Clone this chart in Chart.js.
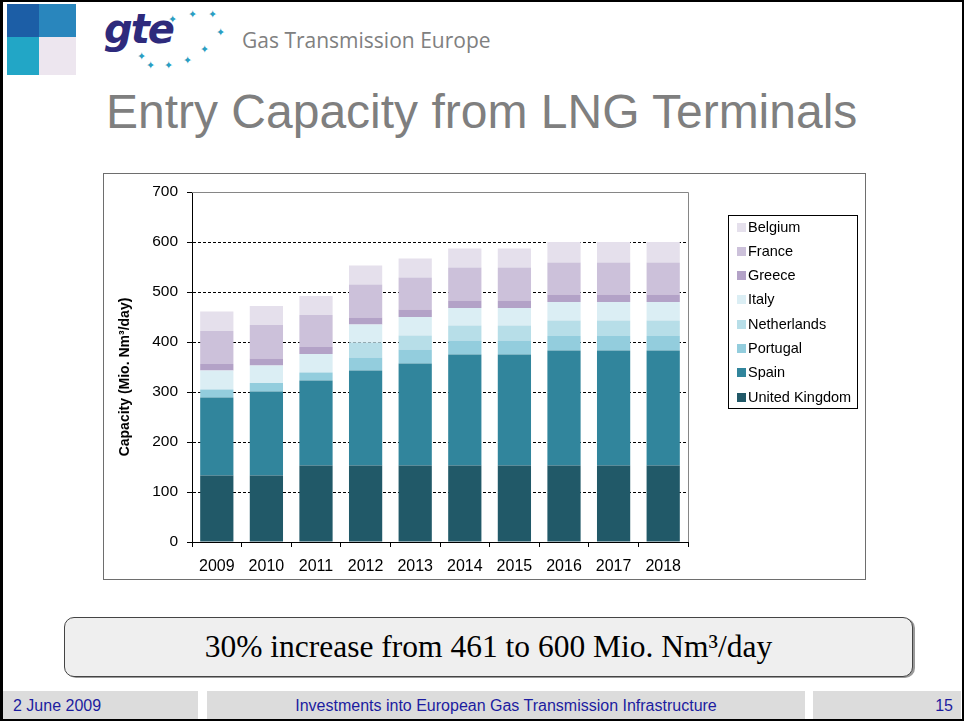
<!DOCTYPE html>
<html>
<head>
<meta charset="utf-8">
<script src="https://cdn.jsdelivr.net/npm/chart.js@4.4.1/dist/chart.umd.min.js"></script>
<style>
  html, body { margin: 0; padding: 0; background: #fff; }
  #slide { position: relative; width: 964px; height: 721px; overflow: hidden; background: #fff; }
  #frame { position: absolute; left: 0; top: 0; width: 964px; height: 721px; box-sizing: border-box;
           border: 2px solid #000; border-left-width: 3px; pointer-events: none; z-index: 5; }
  .sq { position: absolute; }
  #gte { position: absolute; left: 104px; top: 6px; font-family: "DejaVu Sans", sans-serif; font-style: italic;
         font-weight: bold; font-size: 40px; color: #2e2a7c; letter-spacing: -2px; }
  .star { position: absolute; font-family: "DejaVu Sans", sans-serif; font-size: 11px; color: #2a9ec2; line-height: 1; }
  #gtename { position: absolute; left: 242px; top: 26px; font-family: "Open Sans", sans-serif; font-size: 21px;
             color: #808080; white-space: nowrap; }
  #title { position: absolute; left: 106px; top: 84px; font-family: "Liberation Sans", Arial, sans-serif;
           font-size: 48px; color: #7f7f7f; white-space: nowrap; line-height: 56px; }
  #chartbox { position: absolute; left: 103px; top: 173px; width: 762px; height: 406px; }
  #chartborder { position: absolute; left: 103px; top: 173px; width: 763px; height: 407px; box-sizing: border-box;
                 border: 1px solid #6e6e6e; pointer-events: none; }
  #note { position: absolute; left: 64px; top: 617px; width: 849px; height: 60px; box-sizing: border-box;
          border: 1px solid #444; border-radius: 10px; background: #efefef; box-shadow: 2px 1px 0 #9a9a9a;
          font-family: "Liberation Serif", "Times New Roman", serif; font-size: 31.5px; color: #000;
          text-align: center; line-height: 58px; white-space: nowrap; }
  .foot { position: absolute; top: 691px; height: 28px; background: #dcdcdc; font-family: "Liberation Sans", Arial, sans-serif;
          font-size: 16px; color: #1c1ca0; line-height: 30px; white-space: nowrap; }
</style>
</head>
<body>
<div id="slide">
  <div class="sq" style="left:7px;top:4px;width:32px;height:33px;background:#1c5ea6;"></div>
  <div class="sq" style="left:39px;top:4px;width:37px;height:33px;background:#2986bd;"></div>
  <div class="sq" style="left:7px;top:37px;width:32px;height:38px;background:#22a6c6;"></div>
  <div class="sq" style="left:39px;top:37px;width:37px;height:38px;background:#ede6ef;"></div>
  <div id="gte">gte</div>
  <div class="star" style="left:168px;top:14px;">✦</div>
  <div class="star" style="left:188px;top:9px;">✦</div>
  <div class="star" style="left:208px;top:9px;">✦</div>
  <div class="star" style="left:216px;top:27px;">✦</div>
  <div class="star" style="left:200px;top:44px;">✦</div>
  <div class="star" style="left:183px;top:55px;">✦</div>
  <div class="star" style="left:164px;top:60px;">✦</div>
  <div class="star" style="left:146px;top:60px;">✦</div>
  <div class="star" style="left:137px;top:51px;">✦</div>
  <div id="gtename">Gas Transmission Europe</div>
  <div id="title">Entry Capacity from LNG Terminals</div>
  <div id="chartbox"><canvas id="c" width="762" height="406"></canvas></div>
  <div id="chartborder"></div>
  <div id="note">30% increase from 461 to 600 Mio. Nm³/day</div>
  <div class="foot" style="left:3px;width:195px;padding-left:10px;box-sizing:border-box;">2 June 2009</div>
  <div class="foot" style="left:207px;width:598px;text-align:center;">Investments into European Gas Transmission Infrastructure</div>
  <div class="foot" style="left:813px;width:148px;text-align:right;padding-right:8px;box-sizing:border-box;">15</div>
  <div id="frame"></div>
</div>
<script>
const years = ['2009','2010','2011','2012','2013','2014','2015','2016','2017','2018'];
const unitedKingdom = [133,133,153,153,153,153,153,153,153,153];
const spain        = [156,168,170,190,204,222,222,230,230,230];
const portugal     = [16,17,16,26,28,28,28,29,29,29];
const netherlands  = [0,0,0,30,28,30,30,31,31,31];
const italy        = [38,35,37,36,37,35,35,37,37,37];
const greece       = [13,14,14,14,15,15,15,15,15,15];
const france       = [66,67,64,66,64,66,66,64,64,64];
const belgium      = [39,38,38,38,38,38,38,41,41,41];
const yTicks = [0,100,200,300,400,500,600,700];
const yTitle = 'Capacity (Mio. Nm³/day)';

const series = [
  ['United Kingdom', unitedKingdom, '#215968'],
  ['Spain', spain, '#31859c'],
  ['Portugal', portugal, '#93cddd'],
  ['Netherlands', netherlands, '#b7dee8'],
  ['Italy', italy, '#dbeef4'],
  ['Greece', greece, '#b3a2c7'],
  ['France', france, '#ccc1da'],
  ['Belgium', belgium, '#e5e0ec']
];

const boxLegend = {
  id: 'boxLegend',
  afterDraw(chart) {
    const ctx = chart.ctx, ca = chart.chartArea;
    const x0 = ca.right + 40.5, y0 = 42.5, w = 129, h = 193;
    ctx.save();
    ctx.fillStyle = '#fff';
    ctx.fillRect(x0, y0, w, h);
    ctx.strokeStyle = '#000';
    ctx.lineWidth = 1;
    ctx.strokeRect(x0, y0, w, h);
    ctx.font = '14.5px "Liberation Sans", Arial, sans-serif';
    ctx.textBaseline = 'middle';
    const ds = chart.data.datasets.slice().reverse();
    ds.forEach((d, i) => {
      const cy = y0 + 11.5 + i * 24.3;
      ctx.fillStyle = d.backgroundColor;
      ctx.fillRect(x0 + 8.5, Math.round(cy - 4.5), 9, 9);
      ctx.fillStyle = '#000';
      ctx.fillText(d.label, x0 + 19.5, cy + 0.5);
    });
    ctx.restore();
  }
};

const yAxisTitle = {
  id: 'yAxisTitle',
  afterDraw(chart) {
    const ctx = chart.ctx, ca = chart.chartArea;
    ctx.save();
    ctx.translate(22, (ca.top + ca.bottom) / 2 + 10);
    ctx.rotate(-Math.PI / 2);
    ctx.font = 'bold 14px "Liberation Sans", Arial, sans-serif';
    ctx.fillStyle = '#000';
    ctx.textAlign = 'center';
    ctx.textBaseline = 'middle';
    ctx.fillText(yTitle, 0, 0);
    ctx.restore();
  }
};

const plotBorder = {
  id: 'plotBorder',
  afterDatasetsDraw(chart) {
    const ctx = chart.ctx, ca = chart.chartArea;
    ctx.save();
    ctx.strokeStyle = '#868686';
    ctx.lineWidth = 1;
    ctx.beginPath();
    ctx.moveTo(ca.left, Math.round(ca.top) + 0.5);
    ctx.lineTo(Math.round(ca.right) + 0.5, Math.round(ca.top) + 0.5);
    ctx.lineTo(Math.round(ca.right) + 0.5, ca.bottom);
    ctx.stroke();
    ctx.restore();
  }
};

new Chart(document.getElementById('c'), {
  type: 'bar',
  data: {
    labels: years,
    datasets: series.map(([label, data, color]) => ({
      label, data, backgroundColor: color, borderWidth: 0,
      barPercentage: 0.67, categoryPercentage: 1.0
    }))
  },
  options: {
    responsive: false,
    animation: false,
    devicePixelRatio: 1,
    layout: { padding: { left: 0, top: 19, right: 177, bottom: 0 } },
    plugins: { legend: { display: false }, tooltip: { enabled: false } },
    scales: {
      x: {
        stacked: true,
        afterFit(s) { s.height = 37; },
        grid: { drawOnChartArea: false, offset: true, color: '#000', tickLength: 5 },
        border: { color: '#000', width: 1 },
        ticks: { color: '#000', padding: 10, font: { family: '"Liberation Sans", Arial, sans-serif', size: 16 } }
      },
      y: {
        stacked: true,
        min: 0, max: 700,
        afterFit(s) { s.width = 89; },
        afterBuildTicks(s) { s.ticks = yTicks.map(v => ({ value: v })); },
        grid: {
          color: (c) => (c.tick && c.tick.value === 700) ? 'rgba(0,0,0,0)' : '#000',
          tickColor: '#000', tickLength: 5, tickBorderDash: []
        },
        border: { color: '#000', width: 1, dash: [3, 2] },
        ticks: { color: '#000', padding: 9, font: { family: '"Liberation Sans", Arial, sans-serif', size: 15.5 } },
        title: { display: false }
      }
    }
  },
  plugins: [plotBorder, boxLegend, yAxisTitle]
});
</script>
</body>
</html>
